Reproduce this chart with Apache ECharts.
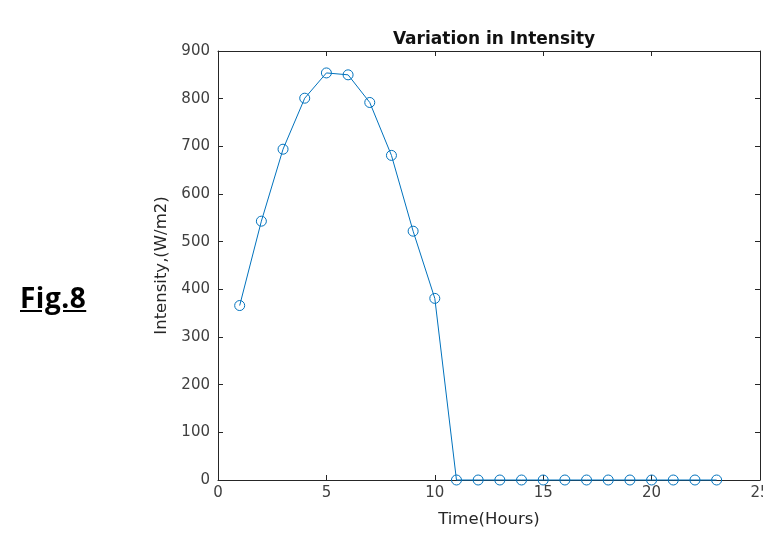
<!DOCTYPE html>
<html><head><meta charset="utf-8">
<script src="https://cdn.jsdelivr.net/npm/echarts@6/dist/echarts.min.js"></script>
<style>html,body{margin:0;padding:0;background:#fff}#c{width:763px;height:535px;position:relative}
#fig{position:absolute;left:20px;top:278px;font-family:"Open Sans","Noto Sans",sans-serif;font-weight:bold;font-size:28px;letter-spacing:0.5px;text-decoration:underline;color:#000}</style>
</head><body>
<div id="c"></div>
<div id="fig">Fig.8</div>
<script>
const hours = [1,2,3,4,5,6,7,8,9,10,11,12,13,14,15,16,17,18,19,20,21,22,23];
const intensity = [366,543,694,801,854,850,792,681,522,381,0,0,0,0,0,0,0,0,0,0,0,0,0];
const xTicks = [0,5,10,15,20,25];
const yTicks = [0,100,200,300,400,500,600,700,800,900];

const chart = echarts.init(document.getElementById('c'));
const font = '"DejaVu Sans", sans-serif';
const axisCol = '#262626';
const tickLab = {color:'#404040', fontFamily:font, fontSize:15};
chart.setOption({
  animation:false,
  title:{text:'Variation in Intensity', left:489, top:26, textAlign:'center',
    textStyle:{fontFamily:font, fontSize:17, fontWeight:'bold', color:'#111'}},
  grid:{left:218, top:51, right:3, bottom:55, containLabel:false, outerBoundsMode:'none'},
  xAxis:[{
    type:'value', min:xTicks[0], max:xTicks[xTicks.length-1], interval:5,
    name:'Time(Hours)', nameLocation:'middle', nameGap:31,
    nameTextStyle:{fontFamily:font, fontSize:16.5, color:axisCol},
    axisLine:{show:true, onZero:false, lineStyle:{color:axisCol}},
    axisTick:{show:true, inside:true, length:5, lineStyle:{color:axisCol}},
    axisLabel:Object.assign({margin:6}, tickLab),
    splitLine:{show:false}
  },{
    type:'value', position:'top', min:0, max:25, interval:5,
    axisLine:{show:true, onZero:false, lineStyle:{color:axisCol}},
    axisTick:{show:true, inside:true, length:5, lineStyle:{color:axisCol}},
    axisLabel:{show:false}, splitLine:{show:false}
  }],
  yAxis:[{
    type:'value', min:yTicks[0], max:yTicks[yTicks.length-1], interval:100,
    name:'Intensity,(W/m2)', nameLocation:'middle', nameGap:47,
    nameTextStyle:{fontFamily:font, fontSize:16.5, color:axisCol},
    axisLine:{show:true, onZero:false, lineStyle:{color:axisCol}},
    axisTick:{show:true, inside:true, length:5, lineStyle:{color:axisCol}},
    axisLabel:Object.assign({margin:8}, tickLab),
    splitLine:{show:false}
  },{
    type:'value', position:'right', min:0, max:900, interval:100,
    axisLine:{show:true, onZero:false, lineStyle:{color:axisCol}},
    axisTick:{show:true, inside:true, length:5, lineStyle:{color:axisCol}},
    axisLabel:{show:false}, splitLine:{show:false}
  }],
  series:[{
    type:'line', xAxisIndex:0, yAxisIndex:0,
    data: hours.map((h,i)=>[h,intensity[i]]),
    clip:false,
    symbol:'circle', symbolSize:10,
    itemStyle:{color:'rgba(0,0,0,0)', borderColor:'#0072BD', borderWidth:1},
    lineStyle:{color:'#0072BD', width:1},
    z:3
  }]
});
</script>
</body></html>
